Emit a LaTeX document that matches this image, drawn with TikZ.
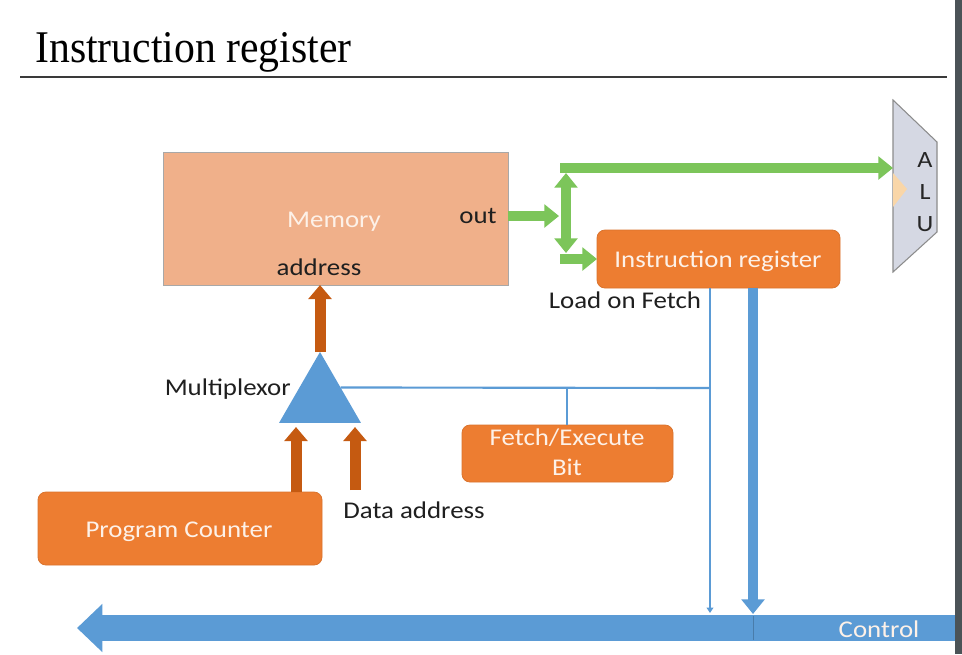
\documentclass[tikz,border=0pt]{standalone}
\usepackage{fontspec}
\usetikzlibrary{arrows.meta,shapes.geometric,fit,calc}
\newfontfamily\bodyfont{Carlito}[FakeStretch=1.12]
\newfontfamily\titlefont{Liberation Serif}[FakeStretch=0.92]
\definecolor{orng}{HTML}{ED7D31}
\definecolor{memfill}{HTML}{F0B08A}
\definecolor{memline}{HTML}{A8A8A8}
\definecolor{grn}{HTML}{7CC55A}
\definecolor{brn}{HTML}{C55A11}
\definecolor{blu}{HTML}{5B9BD5}
\definecolor{alufill}{HTML}{D5D8E3}
\definecolor{aluline}{HTML}{8C8C8C}
\definecolor{peach}{HTML}{F9D6A8}
\definecolor{darkbar}{HTML}{4B5357}
\definecolor{rulec}{HTML}{3A3A3A}
\definecolor{wtext}{HTML}{FDF1E8}
\tikzset{
  obox/.style={fill=orng, draw=orng!92!black, line width=0.6pt, rounded corners=6pt, inner sep=0pt, outer sep=0pt},
  membox/.style={fill=memfill, draw=memline, line width=0.75pt, inner sep=0pt, outer sep=0pt},
  wtxt/.style={anchor=base, text=wtext, inner sep=0pt},
  btxt/.style={anchor=base, text=black!88, inner sep=0pt},
  garrow/.style={draw=grn, line width=7.5pt, -{Triangle[width=17pt,length=11pt]}},
  gdarrow/.style={draw=grn, line width=7.5pt, {Triangle[width=17pt,length=11pt]}-{Triangle[width=17pt,length=11pt]}},
  barrow/.style={draw=brn, line width=8.25pt, -{Triangle[width=17pt,length=10.5pt]}},
  thinb/.style={draw=blu, line width=1.6pt},
  tblue/.style={draw=blu, line width=7.5pt, -{Triangle[width=17pt,length=11pt]}},
  ctrlbar/.style={draw=blu, line width=19.5pt, -{Triangle[width=35pt,length=19pt]}},
  muxshape/.style={regular polygon, regular polygon sides=3, minimum size=71pt, inner sep=0pt, outer sep=0pt, fill=blu, draw=none},
  alutxt/.style={anchor=base, text=black!85, inner sep=0pt, font=\bodyfont\fontsize{17.5}{20}\selectfont}
}
\begin{document}
\begin{tikzpicture}[x=0.75pt, y=-0.75pt, font=\bodyfont\fontsize{18}{21}\selectfont]
\useasboundingbox (0,0) rectangle (962,654);
\fill[white] (0,0) rectangle (962,654);
% right dark border
\fill[darkbar] (955,0) rectangle (962,654);
% title
\node[anchor=base west, inner sep=0pt, font=\titlefont\fontsize{34}{40}\selectfont] (title) at (35,62) {Instruction register};
\coordinate (rl) at (20,77);
\coordinate (rr) at (947,77);
\draw[rulec, line width=1.6pt] (rl) -- (rr);

% memory
\node[membox, fit={(163,152) (508,285)}] (mem) {};
\node[wtxt] (memt) at (334,227) {Memory};
\node[btxt] (outt) at (478,223) {out};
\node[btxt] (addrt) at (319,275) {address};

% ALU
\draw[fill=alufill, draw=aluline, line width=0.8pt] (893,100) -- (937,142) -- (937,232) -- (893,272) -- cycle;
\fill[peach] (893,173) -- (907,189) -- (893,207) -- cycle;
\coordinate (aluin) at (893,168);
\node[alutxt] (aA) at (925,167) {A};
\node[alutxt] (aL) at (925,199) {L};
\node[alutxt] (aU) at (925,231) {U};

% boxes
\node[obox, fit={(597,230) (840,288)}] (ir) {};
\node[wtxt] (irt) at (718,267) {Instruction register};
\node[obox, fit={(462,425) (673,482)}] (fe) {};
\node[wtxt] (fet1) at (567,445) {Fetch/Execute};
\node[wtxt] (fet2) at (567,475) {Bit};
\node[obox, fit={(38,492) (322,565)}] (pc) {};
\node[wtxt] (pct) at (179,537) {Program Counter};

% labels
\node[btxt] (loft) at (625,308) {Load on Fetch};
\node[btxt, anchor=base east] (muxt) at (291,395) {Multiplexor};
\node[btxt] (datat) at (414,518) {Data address};

% multiplexor
\node[muxshape] (mux) at (320,399.3) {};

% green connectors
\coordinate (gmid) at (559,216);
\coordinate (gtop) at (560,168);
\coordinate (gbot) at (560,259);
\coordinate (gvt) at (566,173);
\coordinate (gvb) at (566,253);
\draw[garrow] (mem.east |- gmid) -- (gmid);
\draw[garrow] (gtop) -- (aluin);
\draw[gdarrow] (gvt) -- (gvb);
\draw[garrow] (gbot) -- (ir.west |- gbot);

% brown connectors
\coordinate (muxin1) at (296,427);
\coordinate (muxin2) at (355,427);
\coordinate (daddr) at (355,490);
\draw[barrow] (mux.corner 1) -- (mux.corner 1 |- mem.south);
\draw[barrow] (pc.north -| muxin1) -- (muxin1);
\draw[barrow] (daddr) -- (muxin2);

% control bar
\coordinate (cR) at (955,628);
\coordinate (cL) at (77,628);
\draw[ctrlbar] (cR) -- (cL);
\node[wtxt] (ctrlt) at (879,637) {Control};

% blue connectors
\coordinate (mside) at ($(mux.corner 1)!0.5!(mux.corner 3)$);
\coordinate (lof) at (710,388);
\coordinate (lofend) at (710,613);
\coordinate (fej) at (567,388);
\coordinate (irctl) at (753,614);
\draw[thinb] (mside) -- (lof);
\draw[thinb] (fej) -- (fe.north -| fej);
\draw[thinb, -{Triangle[width=5pt,length=4pt]}] (ir.south -| lof) -- (lofend);
\draw[tblue] (ir.south -| irctl) -- (irctl);
\draw[blu!80!black, line width=0.5pt] (753,616) -- (753,640);
\end{tikzpicture}
\end{document}
